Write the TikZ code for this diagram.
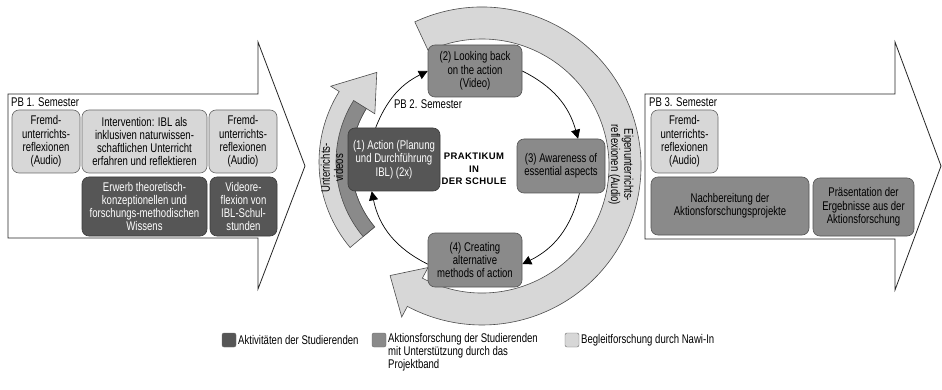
\documentclass[tikz,border=0pt]{standalone}
\usepackage{fontspec}
\setmainfont{Liberation Sans}[FakeStretch=0.76]
\newfontfamily\praktfont{Liberation Sans}[LetterSpace=4]
\usetikzlibrary{arrows.meta}
\definecolor{lightg}{RGB}{215,215,215}
\definecolor{medg}{RGB}{138,138,138}
\definecolor{darkg}{RGB}{86,86,86}
\definecolor{lineg}{RGB}{105,105,105}
\begin{document}
\begin{tikzpicture}[x=1pt,y=-1pt,
  font=\fontsize{12.6}{13.3}\selectfont,
  boxbase/.style={rounded corners=7pt, align=center, inner sep=1pt, line width=0.6pt},
  lbox/.style={boxbase, fill=lightg, draw=lineg, text=black},
  mbox/.style={boxbase, fill=medg, draw=lineg!80!black, text=black},
  dbox/.style={boxbase, fill=darkg, draw=darkg!70!black, text=white},
  sz/.style 2 args={minimum width=#1pt, minimum height=#2pt},
  bigarrow/.style={draw=black!85, line width=0.8pt, fill=white},
  band/.style={draw=black!70, line width=0.6pt, fill=lightg},
  cyc/.style={draw=black, line width=0.7pt, -{Triangle[length=9pt,width=9pt]}},
  legsq/.style={draw=lineg, rounded corners=2pt, minimum size=14pt, inner sep=0pt},
  lbl/.style={inner sep=1pt}
]
\useasboundingbox (0,0) rectangle (942,390);
\fill[white] (0,0) rectangle (942,390);

% left and right block arrows
\draw[bigarrow] (8,94) -- (258,94) -- (258,42) -- (305,166) -- (258,289) -- (258,238) -- (8,238) -- cycle;
\draw[bigarrow] (645,94) -- (895,94) -- (895,42) -- (941,166) -- (895,290) -- (895,239) -- (645,239) -- cycle;

\node[lbl, anchor=west] (pb1) at (10,102) {PB 1. Semester};
\node[lbl, anchor=west] (pb3) at (648,102) {PB 3. Semester};

% left boxes
\node[lbox, sz={68}{63}] (a) at (46,141.5) {Fremd-\\unterrichts-\\reflexionen\\(Audio)};
\node[lbox, sz={125}{63}] (b) at (144.5,141.5) {Intervention: IBL als\\inklusiven naturwissen-\\schaftlichen Unterricht\\erfahren und reflektieren};
\node[lbox, sz={68}{63}] (c) at (243,141.5) {Fremd-\\unterrichts-\\reflexionen\\(Audio)};
\node[dbox, sz={125}{59}] (d) at (144.5,206.5) {Erwerb theoretisch-\\konzeptionellen und\\forschungs-methodischen\\Wissens};
\node[dbox, sz={67}{59}] (e) at (243.5,206.5) {Videore-\\flexion von\\IBL-Schul-\\stunden};

% right boxes
\node[lbox, sz={67}{63}] (f) at (684.5,141.5) {Fremd-\\unterrichts-\\reflexionen\\(Audio)};
\node[mbox, sz={158}{58}] (g) at (730,206) {Nachbereitung der\\Aktionsforschungsprojekte};
\node[mbox, sz={101}{58}] (h) at (863.5,207) {Präsentation der\\Ergebnisse aus der\\Aktionsforschung};

% big curved band arrow (Eigenunterrichtsreflexionen)
\begin{scope}[shift={(482,166)}]
\draw[band] (245:159) arc[start angle=245,end angle=478,radius=159]
  -- (478:171) -- (490:143) -- (478:115) -- (478:127)
  arc[start angle=478,end angle=245,radius=127] -- cycle;
\end{scope}
\node[lbl, rotate=-90, align=center] (eig) at (621,165) {Eigenunterrichts-\\reflexionen (Audio)};

% Unterrichtsvideos arrow
\begin{scope}[shift={(452,162)}]
\draw[band] (140:133) arc[start angle=140,end angle=212,radius=133]
  -- (212:143) -- (230:117) -- (212:91) -- (212:101)
  arc[start angle=212,end angle=140,radius=101] -- cycle;
\draw[draw=black!70, line width=0.6pt, fill=medg] (140:116) arc[start angle=140,end angle=212,radius=116]
  -- (212:101) arc[start angle=212,end angle=140,radius=101] -- cycle;
\end{scope}
\node[lbl, rotate=90, align=center] (uv) at (332,168) {Unterrichts-\\videos};

% cycle boxes
\node[dbox, sz={92}{63}] (n1) at (394,159.5) {(1) Action (Planung\\und Durchführung\\IBL) (2x)};
\node[mbox, sz={94}{52}] (n2) at (475,71) {(2) Looking back\\on the action\\(Video)};
\node[mbox, sz={88}{54}] (n3) at (561,166) {(3) Awareness of\\essential aspects};
\node[mbox, sz={94}{54}] (n4) at (475,260) {(4) Creating\\alternative\\methods of action};
\node[lbl] (pb2) at (428,104) {PB 2. Semester};
\node[lbl, align=center, font=\praktfont\bfseries\fontsize{9.5}{12.5}\selectfont] (pk) at (474,169) {PRAKTIKUM\\IN\\DER SCHULE};

% cycle connectors
\draw[cyc] (n1.120) to[bend left=21] (n2.west);
\draw[cyc] (n2.east) to[bend left=24] (n3.58);
\draw[cyc] (n3.-56) to[bend left=25] (n4.-5);
\draw[cyc] (n4.185) to[bend left=26] (n1.235);

% legend
\node[legsq, fill=darkg] (l1) at (229,340) {};
\node[lbl, anchor=west] (t1) at (237,340) {Aktivitäten der Studierenden};
\node[legsq, fill=medg] (l2) at (379,340) {};
\node[lbl, anchor=north west, align=left] (t2) at (387,332) {Aktionsforschung der Studierenden\\mit Unterstützung durch das\\Projektband};
\node[legsq, fill=lightg] (l3) at (572,340) {};
\node[lbl, anchor=west] (t3) at (580,340) {Begleitforschung durch Nawi-In};
\end{tikzpicture}
\end{document}
